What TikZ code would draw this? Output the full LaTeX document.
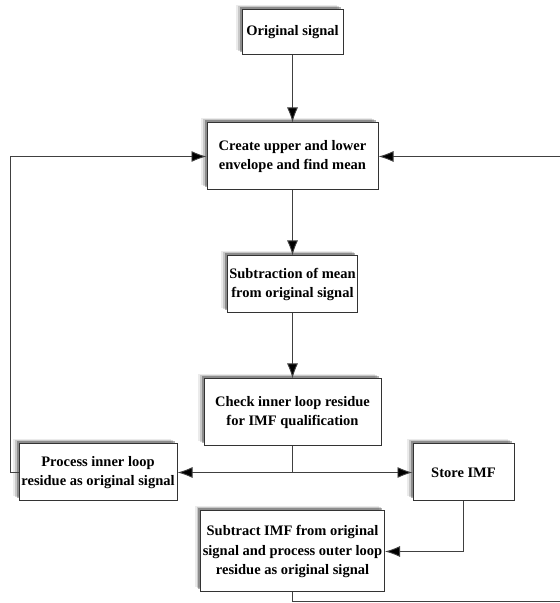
\documentclass[tikz,border=0pt]{standalone}
\usepackage{fontspec}
\setmainfont{Liberation Serif}
\usepackage{tikz}
\usetikzlibrary{positioning,arrows.meta,shadows}

\begin{document}
\begin{tikzpicture}[
		x=1pt, y=1pt,
		block/.style={rectangle, draw=black!80, fill=white, line width=1pt, inner sep=2pt, align=center,
			font=\bfseries\fontsize{14.5}{19.5}\selectfont, text=black,
			general shadow={shadow xshift=-6pt, shadow yshift=5pt, fill=black, opacity=0.08},
			general shadow={shadow xshift=-4pt, shadow yshift=4pt, fill=black, opacity=0.15},
			general shadow={shadow xshift=-2.5pt, shadow yshift=2.5pt, fill=black, opacity=0.3}},
		link/.style={draw=black!75, line width=0.9pt},
		flow/.style={link, -{Latex[length=15pt, width=11pt, fill=black]}},
		]
		\useasboundingbox (0,0) rectangle (560,603);
		\clip (0,0) rectangle (560,603);

		%Main Nodes
		\node[block, minimum width=101pt, minimum height=45pt]	(orig)	at (292.5,570.5)	{Original signal};
		\node[block, minimum width=171pt, minimum height=67pt]	(envelope)	[below=67pt of orig]	{Create upper and lower\\envelope and find mean};
		\node[block, minimum width=129pt, minimum height=57pt]	(subtract_mean)	[below=65pt of envelope]	{Subtraction of mean\\from original signal};
		\node[block, minimum width=177pt, minimum height=67pt]	(check)	[below=65pt of subtract_mean]	{Check inner loop residue\\for IMF qualification};

		%Side Nodes
		\node[block, minimum width=158pt, minimum height=57pt]	(inner_loop)	[below left=-3pt and 26pt of check]	{Process inner loop\\residue as original signal};
		\node[block, minimum width=101pt, minimum height=57pt]	(store)	[below right=-3pt and 31pt of check]	{Store IMF};
		\node[block, minimum width=184pt, minimum height=81pt]	(outer_loop)	[below=64pt of check]	{Subtract IMF from original\\signal and process outer loop\\residue as original signal};

		%Main Lines
		\draw[flow]	(orig.south)	--	(envelope.north);
		\draw[flow]	(envelope.south)	--	(subtract_mean.north);
		\draw[flow]	(subtract_mean.south)	--	(check.north);

		%Split
		\coordinate (split) at (check.south |- inner_loop.east);
		\draw[link]	(check.south)	--	(split);
		\draw[flow]	(split)	--	(inner_loop.east);
		\draw[flow]	(split)	--	(store.west);

		%Loops
		\draw[flow]	(inner_loop.west)	--	++(-8,0)	|-	(envelope.west);
		\draw[flow]	(store.south)	|-	(outer_loop.east);
		\draw[flow]	(outer_loop.south)	|-	(566,2)	|-	(envelope.east);

	\end{tikzpicture}
\end{document}
